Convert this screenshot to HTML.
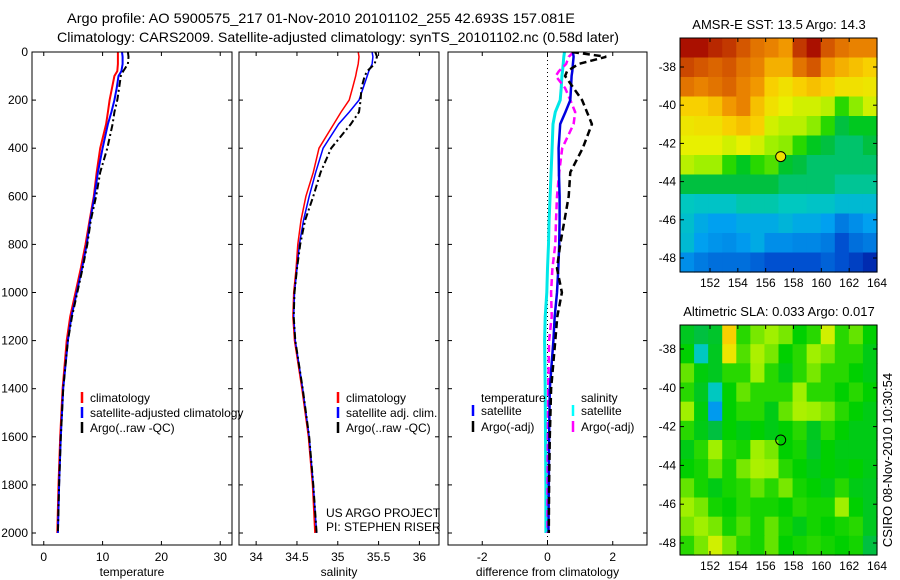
<!DOCTYPE html>
<html><head><meta charset="utf-8"><style>
html,body{margin:0;padding:0;background:#fff;}
svg{display:block;font-family:"Liberation Sans",sans-serif;}
</style></head><body>
<svg id="fig" width="900" height="580" viewBox="0 0 900 580" xmlns="http://www.w3.org/2000/svg">
<text x="321" y="23" font-size="14" text-anchor="middle" textLength="508" lengthAdjust="spacingAndGlyphs">Argo profile: AO 5900575_217 01-Nov-2010 20101102_255 42.693S 157.081E</text>
<text x="338" y="42" font-size="14" text-anchor="middle" textLength="562" lengthAdjust="spacingAndGlyphs">Climatology: CARS2009. Satellite-adjusted climatology: synTS_20101102.nc (0.58d later)</text>
<text x="779" y="29" font-size="13" text-anchor="middle">AMSR-E SST: 13.5 Argo: 14.3</text>
<text x="779" y="316" font-size="13" text-anchor="middle">Altimetric SLA: 0.033 Argo: 0.017</text>
<text transform="translate(892,460) rotate(-90)" font-size="13" text-anchor="middle">CSIRO 08-Nov-2010 10:30:54</text>
<g id="g"></g>
</svg>
<script>
const depths=[0,20,50,80,100,150,200,250,300,400,500,600,700,800,900,1000,1100,1200,1400,1600,1800,2000];
const climT=[12.6,12.6,12.6,12.5,12.0,11.6,11.2,10.9,10.6,9.6,9.0,8.5,7.8,7.1,6.3,5.4,4.5,3.9,3.2,2.8,2.5,2.3];
const satT=[13.3,13.4,13.4,13.2,12.7,12.4,12.0,11.5,10.9,10.0,9.2,8.6,7.9,7.3,6.5,5.6,4.7,4.1,3.3,2.9,2.6,2.4];
const argoT=[14.3,14.4,14.3,13.5,13.1,12.8,12.5,12.0,11.7,10.8,9.6,8.9,8.0,7.4,6.6,5.7,4.8,4.1,3.3,2.9,2.6,2.4];
const climS=[35.25,35.26,35.25,35.23,35.22,35.18,35.14,35.04,34.95,34.77,34.70,34.61,34.55,34.51,34.49,34.46,34.45,34.47,34.56,34.64,34.69,34.72];
const satS=[35.42,35.43,35.42,35.38,35.36,35.31,35.26,35.14,35.01,34.82,34.73,34.65,34.58,34.53,34.50,34.47,34.46,34.48,34.57,34.65,34.70,34.74];
const argoS=[35.46,35.48,35.45,35.36,35.33,35.29,35.28,35.26,35.16,34.92,34.79,34.70,34.60,34.54,34.50,34.47,34.46,34.48,34.57,34.65,34.70,34.74];
const dSatT=[0.78,0.8,0.78,0.76,0.74,0.72,0.7,0.55,0.39,0.34,0.35,0.37,0.37,0.36,0.33,0.29,0.22,0.18,0.07,0.05,0.04,0.03];
const dArgoT=[0.75,1.8,0.95,0.6,0.54,0.8,1.06,1.21,1.36,1.08,0.70,0.65,0.52,0.39,0.29,0.44,0.3,0.24,0.11,0.07,0.05,0.04];
const dSatS=[0.52,0.5,0.48,0.46,0.44,0.42,0.39,0.24,0.17,0.14,0.11,0.08,0.05,0.03,0.0,-0.02,-0.07,-0.09,-0.07,-0.06,-0.05,-0.05];
const dArgoS=[0.8,0.65,0.57,0.35,0.25,0.54,0.7,0.85,0.8,0.45,0.36,0.29,0.26,0.24,0.15,0.11,0.13,0.05,0.02,0.01,0.0,0.0];
const depthTicks=[0,200,400,600,800,1000,1200,1400,1600,1800,2000];
const tTicks=[0,10,20,30];
const sTicks=[34,34.5,35,35.5,36];
const sTickLabels=["34","34.5","35","35.5","36"];
const dTicks=[-2,0,2];
const lonTicks=[152,154,156,158,160,162,164];
const latTicks=[-38,-40,-42,-44,-46,-48];
const sstGrid=[
[0.93,0.93,0.9,0.88,0.84,0.8,0.78,0.75,0.88,0.93,0.84,0.8,0.78,0.78],
[0.86,0.84,0.82,0.84,0.8,0.78,0.72,0.72,0.8,0.84,0.75,0.72,0.7,0.68],
[0.8,0.78,0.8,0.82,0.78,0.75,0.68,0.65,0.68,0.7,0.68,0.65,0.65,0.64],
[0.68,0.68,0.7,0.75,0.78,0.7,0.65,0.62,0.6,0.6,0.58,0.5,0.55,0.6],
[0.64,0.65,0.65,0.68,0.7,0.68,0.6,0.58,0.58,0.55,0.5,0.42,0.45,0.45],
[0.62,0.62,0.62,0.6,0.62,0.6,0.56,0.55,0.5,0.45,0.42,0.4,0.4,0.42],
[0.58,0.56,0.56,0.5,0.45,0.5,0.52,0.44,0.42,0.4,0.4,0.4,0.4,0.4],
[0.42,0.42,0.42,0.42,0.42,0.42,0.42,0.4,0.4,0.4,0.4,0.38,0.38,0.38],
[0.36,0.35,0.35,0.35,0.37,0.37,0.37,0.36,0.36,0.35,0.35,0.33,0.33,0.33],
[0.34,0.3,0.28,0.28,0.3,0.3,0.3,0.32,0.3,0.3,0.28,0.22,0.25,0.28],
[0.33,0.28,0.26,0.25,0.27,0.3,0.25,0.25,0.24,0.24,0.22,0.15,0.2,0.22],
[0.25,0.22,0.2,0.2,0.2,0.18,0.15,0.15,0.15,0.15,0.18,0.15,0.12,0.08]];
const slaGrid=[
[0.45,0.42,0.44,0.68,0.5,0.54,0.56,0.54,0.48,0.5,0.6,0.5,0.53,0.48],
[0.48,0.36,0.45,0.64,0.52,0.57,0.54,0.48,0.5,0.56,0.54,0.5,0.5,0.46],
[0.53,0.47,0.45,0.5,0.5,0.56,0.5,0.46,0.5,0.54,0.5,0.5,0.48,0.46],
[0.5,0.45,0.36,0.48,0.53,0.5,0.5,0.5,0.56,0.5,0.5,0.48,0.5,0.48],
[0.56,0.47,0.27,0.48,0.5,0.5,0.46,0.53,0.57,0.56,0.54,0.5,0.48,0.46],
[0.5,0.46,0.42,0.48,0.46,0.48,0.46,0.48,0.5,0.45,0.5,0.48,0.46,0.46],
[0.46,0.5,0.56,0.5,0.49,0.56,0.54,0.48,0.49,0.44,0.48,0.46,0.46,0.46],
[0.48,0.49,0.53,0.49,0.54,0.57,0.56,0.5,0.48,0.46,0.48,0.47,0.48,0.46],
[0.53,0.49,0.46,0.49,0.5,0.53,0.5,0.54,0.49,0.48,0.46,0.5,0.46,0.45],
[0.56,0.54,0.49,0.48,0.5,0.49,0.49,0.48,0.5,0.49,0.49,0.56,0.48,0.45],
[0.54,0.56,0.54,0.49,0.52,0.49,0.53,0.49,0.46,0.49,0.48,0.49,0.5,0.45],
[0.5,0.54,0.6,0.54,0.5,0.49,0.53,0.48,0.49,0.5,0.49,0.48,0.49,0.42]];
const argoLon=[157.08];
const argoLat=[-42.69];

const NS="http://www.w3.org/2000/svg";
const G=document.getElementById('g');
function mk(tag,attrs,parent){const e=document.createElementNS(NS,tag);for(const k in attrs)e.setAttribute(k,attrs[k]);(parent||G).appendChild(e);return e;}
const Y0=52,YB=545;
const yD=d=>Y0+d*0.2405;
function lin(d0,d1,r0,r1){return v=>r0+(v-d0)*(r1-r0)/(d1-d0);}
const panels=[
 {n:'temperature',x0:32,x1:232,x:lin(-2,32,32,232),ticks:tTicks,labels:tTicks.map(String),
  series:[[climT,'#ff0000','',2],[satT,'#0000ff','',2],[argoT,'#000','7,3,2,3',2]]},
 {n:'salinity',x0:239,x1:439,x:lin(33.79,36.24,239,439),ticks:sTicks,labels:sTickLabels,
  series:[[climS,'#ff0000','',1.5],[satS,'#0000ff','',1.5],[argoS,'#000','7,3,2,3',2]]},
 {n:'difference from climatology',x0:448,x1:647,x:lin(-3.05,3.05,448,647),ticks:dTicks,labels:dTicks.map(String),
  series:[[dSatS,'#00e8e8','',3],[dArgoS,'#ff00ff','7,4',2.5],[dSatT,'#0000e0','',2.5],[dArgoT,'#000','7,4',2.5]]}
];
panels.forEach((p,i)=>{
 const grp=mk('g',{});
 
 
 const cp=mk('clipPath',{id:'cp'+i},grp);mk('rect',{x:p.x0,y:Y0,width:p.x1-p.x0,height:YB-Y0},cp);
 if(i==2){const z=mk('line',{x1:p.x(0),x2:p.x(0),y1:Y0,y2:YB,stroke:'#000','stroke-dasharray':'1,3','stroke-width':1},grp);
  }
 p.series.forEach((s,k)=>{
  const pts=depths.map((d,j)=>p.x(s[0][j]).toFixed(1)+','+yD(d).toFixed(1)).join(' ');
  const l=mk('polyline',{points:pts,fill:'none',stroke:s[1],'stroke-width':s[3],'stroke-dasharray':s[2],'clip-path':'url(#cp'+i+')'},grp);
  
  
 });
 mk('rect',{x:p.x0,y:Y0,width:p.x1-p.x0,height:YB-Y0,fill:'none',stroke:'#000','stroke-width':1},grp);
 depthTicks.forEach(d=>{mk('line',{x1:p.x0,x2:p.x0+4,y1:yD(d),y2:yD(d),stroke:'#000'},grp);mk('line',{x1:p.x1-4,x2:p.x1,y1:yD(d),y2:yD(d),stroke:'#000'},grp);
  if(i==0){const t=mk('text',{x:28,y:yD(d)+4,'font-size':12,'text-anchor':'end'},grp);t.textContent=d;
   }});
 p.ticks.forEach((v,k)=>{const x=p.x(v);mk('line',{x1:x,x2:x,y1:Y0,y2:Y0+4,stroke:'#000'},grp);mk('line',{x1:x,x2:x,y1:YB-4,y2:YB,stroke:'#000'},grp);
  const t=mk('text',{x:x,y:561,'font-size':12,'text-anchor':'middle'},grp);t.textContent=p.labels[k];
  });
 const xt=mk('text',{x:(p.x0+p.x1)/2,y:576,'font-size':12,'text-anchor':'middle'},grp);xt.textContent=p.n;
 
});
function legend(items){items.forEach(it=>{
 const g=mk('g',{});
 
 
 if(it[3])mk('line',{x1:it[0],x2:it[0],y1:it[1]-10,y2:it[1]+1,stroke:it[3],'stroke-width':2.5},g);
 const t=mk('text',{x:it[0]+8,y:it[1],'font-size':12},g);t.textContent=it[2];
});}
legend([[82,402,'climatology','#f00'],[82,417,'satellite-adjusted climatology','#00f'],[82,432,'Argo(..raw -QC)','#000'],
 [338,402,'climatology','#f00'],[338,417,'satellite adj. clim.','#00f'],[338,432,'Argo(..raw -QC)','#000'],
 [473,402,'temperature',null],[473,415,'satellite','#00f'],[473,431,'Argo(-adj)','#000'],
 [573,402,'salinity',null],[573,415,'satellite','#0ff'],[573,431,'Argo(-adj)','#f0f']]);
const cred=mk('g',{});
let t1=mk('text',{x:326,y:517,'font-size':12},cred);t1.textContent='US ARGO PROJECT';
let t2=mk('text',{x:326,y:531,'font-size':12},cred);t2.textContent='PI: STEPHEN RISER';
mk('rect',{x:440,y:505,width:7,height:30,fill:'#fff'});
mk('line',{x1:439,x2:439,y1:505,y2:535,stroke:'#000'});

const stops=[[0,[0,0,139]],[0.15,[0,80,208]],[0.28,[0,160,240]],[0.36,[0,200,192]],[0.42,[0,192,64]],[0.48,[0,208,0]],[0.56,[160,240,0]],[0.62,[232,240,0]],[0.68,[248,208,0]],[0.76,[240,144,0]],[0.85,[208,80,0]],[0.95,[160,0,0]],[1,[140,0,0]]];
function cmap(v){for(let i=1;i<stops.length;i++){if(v<=stops[i][0]){const a=stops[i-1],b=stops[i],f=(v-a[0])/(b[0]-a[0]);
 const c=a[1].map((x,k)=>Math.round(x+(b[1][k]-x)*f));return 'rgb('+c.join(',')+')';}}return 'rgb(140,0,0)';}
const maps=[{grid:sstGrid,y0:38,y1:272,lat:lin(-38,-48,67,258),fill:'#f0e000',n:'sst-map'},
 {grid:slaGrid,y0:325,y1:555,lat:lin(-38,-48,349,543),fill:'none',n:'sla-map'}];
const lon=lin(152,164,710,877);
maps.forEach(m=>{
 const grp=mk('g',{});
 
 
 const x0=680,x1=877,rows=m.grid.length,cols=m.grid[0].length;
 const cw=(x1-x0)/cols,ch=(m.y1-m.y0)/rows;
 m.grid.forEach((row,r)=>row.forEach((v,c)=>{
  const cell=mk('rect',{x:(x0+c*cw).toFixed(2),y:(m.y0+r*ch).toFixed(2),width:(cw+0.6).toFixed(2),height:(ch+0.6).toFixed(2),fill:cmap(v)},grp);
  
  
 }));
 mk('rect',{x:x0,y:m.y0,width:x1-x0,height:m.y1-m.y0,fill:'none',stroke:'#000'},grp);
 lonTicks.forEach(v=>{const x=lon(v);mk('line',{x1:x,x2:x,y1:m.y0,y2:m.y0+4,stroke:'#000'},grp);mk('line',{x1:x,x2:x,y1:m.y1-4,y2:m.y1,stroke:'#000'},grp);
  const t=mk('text',{x:x,y:m.y1+15,'font-size':12,'text-anchor':'middle'},grp);t.textContent=v;
  });
 latTicks.forEach(v=>{const y=m.lat(v);mk('line',{x1:x0,x2:x0+4,y1:y,y2:y,stroke:'#000'},grp);mk('line',{x1:x1-4,x2:x1,y1:y,y2:y,stroke:'#000'},grp);
  const t=mk('text',{x:x0-4,y:y+4,'font-size':12,'text-anchor':'end'},grp);t.textContent=v;
  });
 const c=mk('circle',{cx:lon(argoLon[0]),cy:m.lat(argoLat[0]),r:5,fill:m.fill,stroke:'#000','stroke-width':1},grp);
 
 
});
</script>
</body></html>
